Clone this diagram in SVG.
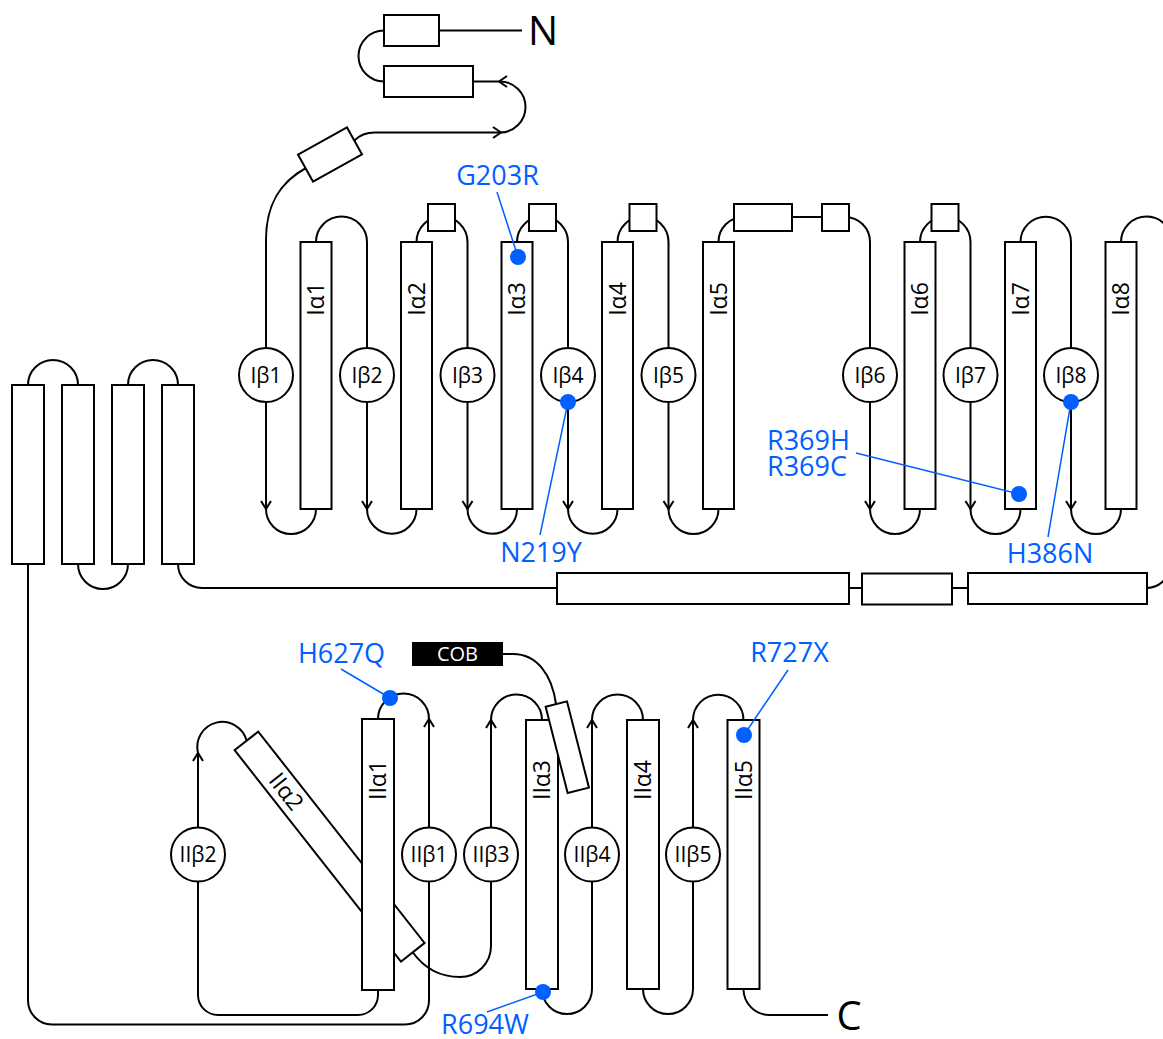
<svg xmlns="http://www.w3.org/2000/svg" width="1163" height="1039" viewBox="0 0 1163 1039">
<style>
.h{fill:#fff;stroke:#000;stroke-width:2}
.c{fill:none;stroke:#000;stroke-width:2}
.t{font-family:"Open Sans","Liberation Sans",sans-serif;font-size:21px;fill:#000;text-anchor:middle}
.a{font-family:"Open Sans","Liberation Sans",sans-serif;font-size:23px;fill:#000;text-anchor:middle}
.m{font-family:"Open Sans","Liberation Sans",sans-serif;font-size:27px;fill:#0060ff;text-anchor:middle}
.big{font-family:"Open Sans","Liberation Sans",sans-serif;font-size:40px;fill:#000;text-anchor:middle}
.dot{fill:#0060ff}
.ld{fill:none;stroke:#0060ff;stroke-width:1.5}
</style>
<defs>
<marker id="ah" markerUnits="userSpaceOnUse" viewBox="-10 -10 20 20" markerWidth="20" markerHeight="20" refX="0" refY="0" orient="auto" overflow="visible">
<path d="M-8,-5 L0,0 L-8,5" fill="none" stroke="#000" stroke-width="2"/>
</marker>
</defs>
<rect width="1163" height="1039" fill="#fff"/>
<g id="connectors" class="c">
<path d="M522,30.5 L439,30.5"/>
<path d="M384,30.5 A25.5,25.5 0 0 0 384,81.5"/>
<path d="M473,81.5 L500,81.5 A25.5,25.5 0 0 1 500,132.5 L375,132.5 Q362,132.5 354.5,140.5"/>
<path d="M507,76 L499,81.5 L507,87"/>
<path d="M493,127 L501,132.5 L493,138"/>
<path d="M306,168 C284,180 266,200 266,240 L266,348"/>
<path d="M266,402 L266,509" marker-end="url(#ah)"/>
<path d="M367,402 L367,509" marker-end="url(#ah)"/>
<path d="M467.5,402 L467.5,509" marker-end="url(#ah)"/>
<path d="M568,402 L568,509" marker-end="url(#ah)"/>
<path d="M668.5,402 L668.5,509" marker-end="url(#ah)"/>
<path d="M870,402 L870,509" marker-end="url(#ah)"/>
<path d="M970.5,402 L970.5,509" marker-end="url(#ah)"/>
<path d="M1071,402 L1071,509" marker-end="url(#ah)"/>
<path d="M266,509 A25,25 0 0 0 316,509"/>
<path d="M367,509 A24.75,24.75 0 0 0 416.5,509"/>
<path d="M467.5,509 A24.75,24.75 0 0 0 517,509"/>
<path d="M568,509 A24.75,24.75 0 0 0 617.5,509"/>
<path d="M668.5,509 A25,25 0 0 0 718.5,509"/>
<path d="M870,509 A25,25 0 0 0 920,509"/>
<path d="M970.5,509 A25,25 0 0 0 1020.5,509"/>
<path d="M1071,509 A25,25 0 0 0 1121,509"/>
<path d="M316,242 A25.5,25.5 0 0 1 367,242 L367,348"/>
<path d="M416.5,242 A25.5,25.5 0 0 1 467.5,242 L467.5,348"/>
<path d="M517,242 A25.5,25.5 0 0 1 568,242 L568,348"/>
<path d="M617.5,242 A25.5,25.5 0 0 1 668.5,242 L668.5,348"/>
<path d="M718.5,242 A25,25 0 0 1 743.5,217 L845,217 A25,25 0 0 1 870,242 L870,348"/>
<path d="M920,242 A25.25,25.25 0 0 1 970.5,242 L970.5,348"/>
<path d="M1020.5,242 A25.25,25.25 0 0 1 1071,242 L1071,348"/>
<path d="M1121,242 A25.5,25.5 0 0 1 1172,242"/>
<path d="M178,564 A24,24 0 0 0 202,588 L1146,588 A25,25 0 0 0 1171,563"/>
<path d="M28,385 A25,25 0 0 1 78,385"/>
<path d="M128,385 A25,25 0 0 1 178,385"/>
<path d="M78,564 A25,25 0 0 0 128,564"/>
<path d="M28,564 L28,1000 A24,24 0 0 0 52,1024.5 L405,1024.5 A24,24 0 0 0 429,1000.5 L429,881"/>
<path d="M429,827 L429,719" marker-end="url(#ah)"/>
<path d="M429,719 A25.5,25.5 0 0 0 378,719"/>
<path d="M378,990 L378,995 A20,20 0 0 1 358,1015 L218,1015 A20,20 0 0 1 198,995 L198,881.5"/>
<path d="M198,827.5 L198,753" marker-end="url(#ah)"/>
<path d="M198,753 A25,25 0 0 1 246.7,741"/>
<path d="M412.5,952 C424,968 440,977 460,977 A31,31 0 0 0 491,946 L491,881.5"/>
<path d="M491,827.5 L491,720" marker-end="url(#ah)"/>
<path d="M491,720 A25.5,25.5 0 0 1 542,720"/>
<path d="M542,989 A25,25 0 0 0 592,989 L592,881.5"/>
<path d="M592,827.5 L592,720" marker-end="url(#ah)"/>
<path d="M592,720 A25.5,25.5 0 0 1 643,720"/>
<path d="M643,989 A25,25 0 0 0 693,989 L693,881.5"/>
<path d="M693,827.5 L693,720" marker-end="url(#ah)"/>
<path d="M693,720 A25.25,25.25 0 0 1 743.5,720"/>
<path d="M743.5,989 A26,26 0 0 0 769.5,1015 L828,1015"/>
<path d="M503,654 L513,654 C537,654 552,675 556,704"/>
</g>
<g id="n-helix1"><rect class="h" x="384" y="15" width="55" height="31"/></g>
<g id="n-helix2"><rect class="h" x="384" y="66" width="89" height="31"/></g>
<g id="n-helix3"><rect class="h" x="-28" y="-15.5" width="56" height="31" transform="translate(330,154.5) rotate(-29)"/></g>
<g id="N-label"><text class="big" x="543" y="45">N</text></g>
<g id="Ib1"><circle class="h" cx="266" cy="375" r="27"/><text class="t" x="266" y="382.5">Iβ1</text></g>
<g id="Ib2"><circle class="h" cx="367" cy="375" r="27"/><text class="t" x="367" y="382.5">Iβ2</text></g>
<g id="Ib3"><circle class="h" cx="467.5" cy="375" r="27"/><text class="t" x="467.5" y="382.5">Iβ3</text></g>
<g id="Ib4"><circle class="h" cx="568" cy="375" r="27"/><text class="t" x="568" y="382.5">Iβ4</text></g>
<g id="Ib5"><circle class="h" cx="668.5" cy="375" r="27"/><text class="t" x="668.5" y="382.5">Iβ5</text></g>
<g id="Ib6"><circle class="h" cx="870" cy="375" r="27"/><text class="t" x="870" y="382.5">Iβ6</text></g>
<g id="Ib7"><circle class="h" cx="970.5" cy="375" r="27"/><text class="t" x="970.5" y="382.5">Iβ7</text></g>
<g id="Ib8"><circle class="h" cx="1071" cy="375" r="27"/><text class="t" x="1071" y="382.5">Iβ8</text></g>
<g id="Ia1"><rect class="h" x="300.5" y="242" width="31" height="267"/><text class="a" transform="translate(316,299) rotate(-90)" y="8">Iα1</text></g>
<g id="Ia2"><rect class="h" x="401" y="242" width="31" height="267"/><text class="a" transform="translate(416.5,299) rotate(-90)" y="8">Iα2</text></g>
<g id="Ia3"><rect class="h" x="501.5" y="242" width="31" height="267"/><text class="a" transform="translate(517,299) rotate(-90)" y="8">Iα3</text></g>
<g id="Ia4"><rect class="h" x="602" y="242" width="31" height="267"/><text class="a" transform="translate(617.5,299) rotate(-90)" y="8">Iα4</text></g>
<g id="Ia5"><rect class="h" x="703" y="242" width="31" height="267"/><text class="a" transform="translate(718.5,299) rotate(-90)" y="8">Iα5</text></g>
<g id="Ia6"><rect class="h" x="904.5" y="242" width="31" height="267"/><text class="a" transform="translate(920,299) rotate(-90)" y="8">Iα6</text></g>
<g id="Ia7"><rect class="h" x="1005" y="242" width="31" height="267"/><text class="a" transform="translate(1020.5,299) rotate(-90)" y="8">Iα7</text></g>
<g id="Ia8"><rect class="h" x="1105.5" y="242" width="31" height="267"/><text class="a" transform="translate(1121,299) rotate(-90)" y="8">Iα8</text></g>
<g id="loop-a2"><rect class="h" x="428" y="204" width="27" height="27"/></g>
<g id="loop-a3"><rect class="h" x="529" y="204" width="27" height="27"/></g>
<g id="loop-a4"><rect class="h" x="629.5" y="204" width="27" height="27"/></g>
<g id="loop-a5a"><rect class="h" x="734" y="204" width="58" height="27"/></g>
<g id="loop-a5b"><rect class="h" x="822" y="204" width="27" height="27"/></g>
<g id="loop-a6"><rect class="h" x="931.5" y="204" width="27" height="27"/></g>
<g id="link1"><rect class="h" x="557" y="573" width="292" height="31"/></g>
<g id="link2"><rect class="h" x="862" y="573.5" width="90" height="31"/></g>
<g id="link3"><rect class="h" x="968" y="573" width="179" height="31"/></g>
<g id="left1"><rect class="h" x="12" y="385" width="32" height="179"/></g>
<g id="left2"><rect class="h" x="62" y="385" width="32" height="179"/></g>
<g id="left3"><rect class="h" x="112" y="385" width="32" height="179"/></g>
<g id="left4"><rect class="h" x="162" y="385" width="32" height="179"/></g>
<g id="IIa2"><rect class="h" x="-134.5" y="-15" width="269" height="30" transform="translate(329.6,846.6) rotate(51.8)"/><text class="a" transform="translate(329.6,846.6) rotate(51.8)" x="-70" y="8">IIα2</text></g>
<g id="IIa1"><rect class="h" x="362" y="719" width="32" height="271"/><text class="a" transform="translate(378,780) rotate(-90)" y="8">IIα1</text></g>
<g id="IIb1"><circle class="h" cx="429" cy="854.5" r="27"/><text class="t" x="429" y="862">IIβ1</text></g>
<g id="IIb2"><circle class="h" cx="198" cy="854.5" r="27"/><text class="t" x="198" y="862">IIβ2</text></g>
<g id="IIb3"><circle class="h" cx="491" cy="854.5" r="27"/><text class="t" x="491" y="862">IIβ3</text></g>
<g id="IIb4"><circle class="h" cx="592" cy="854.5" r="27"/><text class="t" x="592" y="862">IIβ4</text></g>
<g id="IIb5"><circle class="h" cx="693" cy="854.5" r="27"/><text class="t" x="693" y="862">IIβ5</text></g>
<g id="IIa3"><rect class="h" x="526" y="720" width="32" height="269"/><text class="a" transform="translate(542,780) rotate(-90)" y="8">IIα3</text></g>
<g id="IIa4"><rect class="h" x="627" y="720" width="32" height="269"/><text class="a" transform="translate(643,780) rotate(-90)" y="8">IIα4</text></g>
<g id="IIa5"><rect class="h" x="727.5" y="720" width="32" height="269"/><text class="a" transform="translate(743.5,780) rotate(-90)" y="8">IIα5</text></g>
<g id="cob-helix"><rect class="h" x="-11" y="-44.5" width="22" height="89" transform="translate(567.3,747.2) rotate(-14.3)"/></g>
<g id="COB"><rect x="412" y="642" width="91" height="24" fill="#000"/><text x="457.5" y="661" font-family="Open Sans, Liberation Sans, sans-serif" font-size="20" fill="#fff" text-anchor="middle">COB</text></g>
<g id="C-label"><text class="big" x="849" y="1030">C</text></g>
<g id="mutations">
<path class="ld" d="M497,192 L518,257"/>
<path class="ld" d="M540,535 L568,402"/>
<path class="ld" d="M856,453 L1019,494"/>
<path class="ld" d="M1048,537 L1071,402"/>
<path class="ld" d="M341,669 L390,698"/>
<path class="ld" d="M788,670 L744,735"/>
<path class="ld" d="M487,1012 L543,992"/>
<circle class="dot" cx="518" cy="257" r="8"/>
<circle class="dot" cx="568" cy="402" r="8"/>
<circle class="dot" cx="1019" cy="494" r="8"/>
<circle class="dot" cx="1071" cy="402" r="8"/>
<circle class="dot" cx="390" cy="698" r="8"/>
<circle class="dot" cx="744" cy="735" r="8"/>
<circle class="dot" cx="543" cy="992" r="8"/>
<text class="m" x="497.5" y="185">G203R</text>
<text class="m" x="541" y="562">N219Y</text>
<text class="m" x="767" y="450" style="text-anchor:start">R369H</text>
<text class="m" x="767" y="476" style="text-anchor:start">R369C</text>
<text class="m" x="1050" y="563">H386N</text>
<text class="m" x="341.5" y="663">H627Q</text>
<text class="m" x="789.5" y="662">R727X</text>
<text class="m" x="485" y="1034">R694W</text>
</g>
</svg>
